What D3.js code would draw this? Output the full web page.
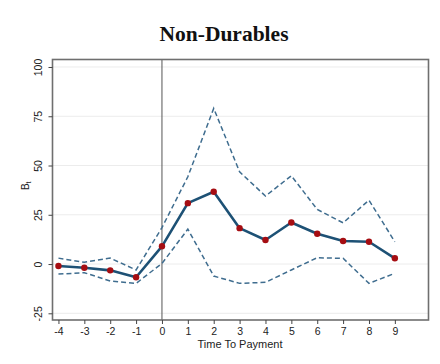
<!DOCTYPE html>
<html>
<head>
<meta charset="utf-8">
<script src="https://cdn.jsdelivr.net/npm/d3@7"></script>
<style>
  html, body { margin: 0; padding: 0; background: #fff; }
  svg { display: block; }
</style>
</head>
<body>
<script>
// Event-study estimates for non-durable spending around the payment date
const periods = [-4, -3, -2, -1, 0, 1, 2, 3, 4, 5, 6, 7, 8, 9];
const estimate = [-1.0, -1.9, -3.2, -6.7, 9.0, 30.9, 36.7, 18.2, 12.2, 21.1, 15.4, 11.7, 11.3, 2.9];
const upperCI = [3.0, 0.9, 3.0, -3.0, 18.5, 44.3, 79.0, 46.8, 34.5, 44.8, 27.7, 20.9, 32.4, 11.3];
const lowerCI = [-5.1, -4.4, -8.6, -9.8, 0.3, 17.7, -6.1, -9.8, -9.3, -3.0, 3.2, 2.9, -9.8, -4.7];
const yTicks = [-25, 0, 25, 50, 75, 100];
const xTicks = periods;

const W = 440, H = 364;
const svg = d3.select("body").append("svg").attr("width", W).attr("height", H);

const frame = { left: 52.5, right: 428.5, top: 59.5, bottom: 320 };

const x = d3.scaleLinear().domain([-4.23, 10.3]).range([frame.left, frame.right]);
const y = d3.scaleLinear().domain([-28.4, 103.8]).range([frame.bottom, frame.top]);

// Title
svg.append("text")
  .attr("x", 224).attr("y", 41)
  .attr("text-anchor", "middle")
  .attr("font-family", "'Liberation Serif', 'Times New Roman', serif")
  .attr("font-weight", "bold")
  .attr("font-size", 21.5)
  .attr("fill", "#111")
  .text("Non-Durables");

// Horizontal grid lines
svg.append("g").selectAll("line")
  .data(yTicks)
  .join("line")
  .attr("x1", frame.left).attr("x2", frame.right)
  .attr("y1", d => y(d)).attr("y2", d => y(d))
  .attr("stroke", "#ececec").attr("stroke-width", 1);

// Vertical reference at payment date
svg.append("line")
  .attr("x1", x(0)).attr("x2", x(0))
  .attr("y1", frame.top).attr("y2", frame.bottom)
  .attr("stroke", "#555").attr("stroke-width", 1);

// Plot frame
svg.append("rect")
  .attr("x", frame.left).attr("y", frame.top)
  .attr("width", frame.right - frame.left)
  .attr("height", frame.bottom - frame.top)
  .attr("fill", "none")
  .attr("stroke", "#6f6f6f").attr("stroke-width", 1.6);

// Axes
const font = "'Liberation Sans', Arial, sans-serif";
const plain = d => String(d);

const yAxis = d3.axisLeft(y).tickValues(yTicks).tickSize(4).tickFormat(plain);
const gy = svg.append("g").attr("transform", `translate(${frame.left},0)`).call(yAxis);
gy.select(".domain").remove();
gy.selectAll(".tick line").attr("stroke", "#444");
gy.selectAll(".tick text")
  .attr("font-family", font).attr("font-size", 10.5).attr("fill", "#222")
  .attr("text-anchor", "middle")
  .attr("x", 0).attr("y", 0).attr("dy", 0)
  .attr("transform", "translate(-11,0) rotate(-90)");

const xAxis = d3.axisBottom(x).tickValues(xTicks).tickSize(4).tickPadding(4).tickFormat(plain);
const gx = svg.append("g").attr("transform", `translate(0,${frame.bottom})`).call(xAxis);
gx.select(".domain").remove();
gx.selectAll(".tick line").attr("stroke", "#444");
gx.selectAll(".tick text")
  .attr("font-family", font).attr("font-size", 10.5).attr("fill", "#222");

// Axis titles
svg.append("text")
  .attr("x", 240).attr("y", 348)
  .attr("text-anchor", "middle")
  .attr("font-family", font).attr("font-size", 11).attr("fill", "#222")
  .text("Time To Payment");

const yt = svg.append("text")
  .attr("transform", `translate(29,${(frame.top + frame.bottom) / 2 - 4}) rotate(-90)`)
  .attr("text-anchor", "middle")
  .attr("font-family", font).attr("font-size", 10).attr("fill", "#222");
yt.append("tspan").text("B");
yt.append("tspan").attr("font-size", 7).attr("dy", 2).text("t");

// Confidence bands
const line = d3.line().x((d, i) => x(periods[i])).y(d => y(d));
[upperCI, lowerCI].forEach(series => {
  svg.append("path")
    .datum(series)
    .attr("d", line)
    .attr("fill", "none")
    .attr("stroke", "#3f6d8f")
    .attr("stroke-width", 1.5)
    .attr("stroke-dasharray", "5,3");
});

// Point estimates
svg.append("path")
  .datum(estimate)
  .attr("d", line)
  .attr("fill", "none")
  .attr("stroke", "#1d5175")
  .attr("stroke-width", 2.6)
  .attr("stroke-linejoin", "round");

svg.append("g").selectAll("circle")
  .data(estimate)
  .join("circle")
  .attr("cx", (d, i) => x(periods[i]))
  .attr("cy", d => y(d))
  .attr("r", 3.2)
  .attr("fill", "#a50d12");
</script>
</body>
</html>
